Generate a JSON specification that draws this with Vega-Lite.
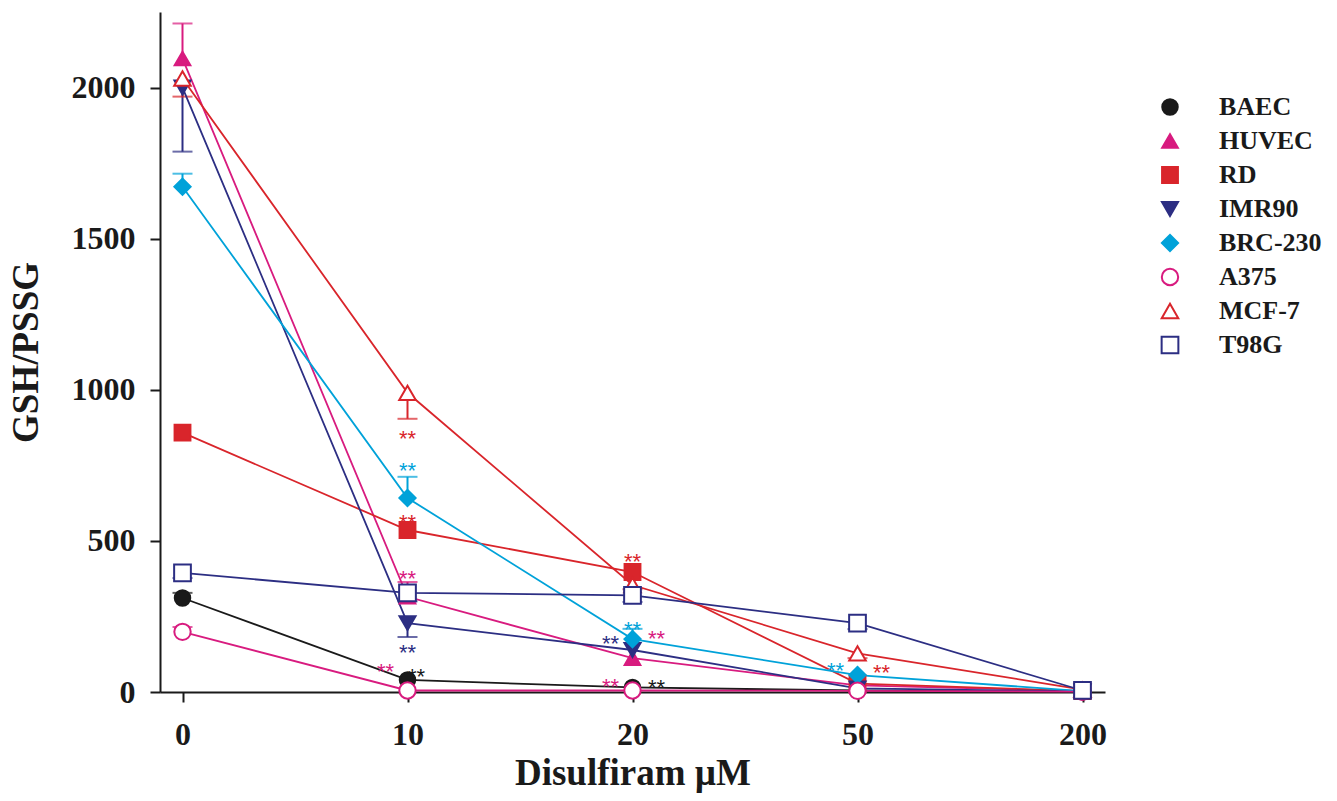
{
  "$schema": "https://vega.github.io/schema/vega-lite/v6.json",
  "width": 945,
  "height": 680,
  "autosize": "none",
  "padding": {"left": 160, "top": 12, "right": 232, "bottom": 109},
  "background": "white",
  "config": {
    "view": {"stroke": null},
    "axis": {"grid": false, "domainColor": "#1a1a1a", "domainWidth": 2, "tickColor": "#1a1a1a", "tickWidth": 2, "tickSize": 10,
      "labelFont": "Liberation Serif", "labelFontWeight": "bold", "labelFontSize": 32, "labelColor": "#1a1a1a",
      "titleFont": "Liberation Serif", "titleFontWeight": "bold", "titleFontSize": 37, "titleColor": "#1a1a1a"},
    "legend": {"orient": "none", "legendX": 997, "legendY": 82, "padding": 0, "symbolSize": 256, "symbolStrokeWidth": 2, "rowPadding": 8, "labelOffset": 36,
      "labelFont": "Liberation Serif", "labelFontWeight": "bold", "labelFontSize": 26, "labelColor": "#1a1a1a"}
  },
  "datasets": {
    "obs": [
      {"series": "BAEC", "dose": "0", "value": 311, "err": 328},
      {"series": "BAEC", "dose": "10", "value": 40, "err": null},
      {"series": "BAEC", "dose": "20", "value": 15, "err": null},
      {"series": "BAEC", "dose": "50", "value": 5, "err": null},
      {"series": "BAEC", "dose": "200", "value": 1, "err": null},
      {"series": "HUVEC", "dose": "0", "value": 2096, "err": 2212},
      {"series": "HUVEC", "dose": "10", "value": 315, "err": 364},
      {"series": "HUVEC", "dose": "20", "value": 112, "err": null},
      {"series": "HUVEC", "dose": "50", "value": 22, "err": null},
      {"series": "HUVEC", "dose": "200", "value": 3, "err": null},
      {"series": "RD", "dose": "0", "value": 858, "err": null},
      {"series": "RD", "dose": "10", "value": 536, "err": null},
      {"series": "RD", "dose": "20", "value": 397, "err": null},
      {"series": "RD", "dose": "50", "value": 28, "err": null},
      {"series": "RD", "dose": "200", "value": 3, "err": null},
      {"series": "IMR90", "dose": "0", "value": 2000, "err": 1788},
      {"series": "IMR90", "dose": "10", "value": 228, "err": 182},
      {"series": "IMR90", "dose": "20", "value": 139, "err": null},
      {"series": "IMR90", "dose": "50", "value": 12, "err": null},
      {"series": "IMR90", "dose": "200", "value": 2, "err": null},
      {"series": "BRC-230", "dose": "0", "value": 1672, "err": 1715},
      {"series": "BRC-230", "dose": "10", "value": 642, "err": 712},
      {"series": "BRC-230", "dose": "20", "value": 175, "err": 209},
      {"series": "BRC-230", "dose": "50", "value": 56, "err": null},
      {"series": "BRC-230", "dose": "200", "value": 3, "err": null},
      {"series": "A375", "dose": "0", "value": 199, "err": 215},
      {"series": "A375", "dose": "10", "value": 5, "err": null},
      {"series": "A375", "dose": "20", "value": 5, "err": null},
      {"series": "A375", "dose": "50", "value": 4, "err": null},
      {"series": "A375", "dose": "200", "value": 1, "err": null},
      {"series": "MCF-7", "dose": "0", "value": 2030, "err": 1970},
      {"series": "MCF-7", "dose": "10", "value": 990, "err": 904},
      {"series": "MCF-7", "dose": "20", "value": 354, "err": 340},
      {"series": "MCF-7", "dose": "50", "value": 128, "err": 112},
      {"series": "MCF-7", "dose": "200", "value": 8, "err": null},
      {"series": "T98G", "dose": "0", "value": 394, "err": 377},
      {"series": "T98G", "dose": "10", "value": 328, "err": 300},
      {"series": "T98G", "dose": "20", "value": 320, "err": 298},
      {"series": "T98G", "dose": "50", "value": 228, "err": 208},
      {"series": "T98G", "dose": "200", "value": 5, "err": null}
    ],
    "stars": [
      {"series": "MCF-7", "dose": "10", "y": 858, "side": "center"},
      {"series": "BRC-230", "dose": "10", "y": 752, "side": "center"},
      {"series": "RD", "dose": "10", "y": 580, "side": "center"},
      {"series": "HUVEC", "dose": "10", "y": 394, "side": "center"},
      {"series": "IMR90", "dose": "10", "y": 150, "side": "center"},
      {"series": "A375", "dose": "10", "y": 85, "side": "left"},
      {"series": "BAEC", "dose": "10", "y": 68, "side": "near"},
      {"series": "RD", "dose": "20", "y": 450, "side": "center"},
      {"series": "BRC-230", "dose": "20", "y": 225, "side": "center"},
      {"series": "HUVEC", "dose": "20", "y": 195, "side": "right"},
      {"series": "IMR90", "dose": "20", "y": 180, "side": "left"},
      {"series": "A375", "dose": "20", "y": 36, "side": "left"},
      {"series": "BAEC", "dose": "20", "y": 33, "side": "right"},
      {"series": "BRC-230", "dose": "50", "y": 90, "side": "left"},
      {"series": "RD", "dose": "50", "y": 83, "side": "right"}
    ]
  },
  "encoding": {
    "x": {"field": "dose", "type": "ordinal", "sort": ["0", "10", "20", "50", "200"],
      "scale": {"type": "point", "padding": 0.1},
      "axis": {"title": "Disulfiram µM", "labelAngle": 0, "labelPadding": 17, "titlePadding": 5}}
  },
  "layer": [
    {
      "data": {"name": "obs"},
      "transform": [{"filter": "datum.err != null"}],
      "mark": {"type": "rule", "strokeWidth": 2},
      "encoding": {
        "y": {"field": "value", "type": "quantitative"},
        "y2": {"field": "err"},
        "color": {"field": "series", "type": "nominal", "legend": null,
          "scale": {"domain": ["T98G", "MCF-7", "A375", "BRC-230", "IMR90", "RD", "HUVEC", "BAEC"],
            "range": ["#2c2e83", "#d9252b", "#d81b7f", "#00a2d9", "#2c2e83", "#d9252b", "#d81b7f", "#1a1a1a"]}}
      }
    },
    {
      "data": {"name": "obs"},
      "transform": [{"filter": "datum.err != null"}],
      "mark": {"type": "tick", "size": 20, "thickness": 2, "orient": "horizontal"},
      "encoding": {
        "y": {"field": "err", "type": "quantitative"},
        "color": {"field": "series", "type": "nominal", "legend": null}
      }
    },
    {
      "data": {"name": "obs"},
      "mark": {"type": "line", "strokeWidth": 1.8},
      "encoding": {
        "y": {"field": "value", "type": "quantitative", "scale": {"domain": [0, 2250], "nice": false},
          "axis": {"title": "GSH/PSSG", "values": [0, 500, 1000, 1500, 2000], "format": "d", "labelPadding": 15, "titlePadding": 26}},
        "stroke": {"field": "series", "type": "nominal",
          "scale": {"domain": ["BAEC", "HUVEC", "RD", "IMR90", "BRC-230", "A375", "MCF-7", "T98G"],
            "range": ["#1a1a1a", "#d81b7f", "#d9252b", "#2c2e83", "#00a2d9", "#d81b7f", "#d9252b", "#2c2e83"]},
          "legend": {"title": null}
        }
      }
    },
    {
      "data": {"name": "obs"},
      "mark": {"type": "point", "strokeWidth": 2, "opacity": 1},
      "encoding": {
        "y": {"field": "value", "type": "quantitative"},
        "stroke": {"field": "series", "type": "nominal", "legend": {"title": null}},
        "fill": {"field": "series", "type": "nominal",
          "scale": {"domain": ["BAEC", "HUVEC", "RD", "IMR90", "BRC-230", "A375", "MCF-7", "T98G"],
            "range": ["#1a1a1a", "#d81b7f", "#d9252b", "#2c2e83", "#00a2d9", "#ffffff", "#ffffff", "#ffffff"]},
          "legend": {"title": null}},
        "size": {"field": "series", "type": "nominal",
          "scale": {"domain": ["BAEC", "HUVEC", "RD", "IMR90", "BRC-230", "A375", "MCF-7", "T98G"],
            "range": [240, 280, 260, 280, 350, 230, 280, 240]},
          "legend": {"title": null}},
        "shape": {"field": "series", "type": "nominal",
          "scale": {"domain": ["BAEC", "HUVEC", "RD", "IMR90", "BRC-230", "A375", "MCF-7", "T98G"],
            "range": ["circle", "triangle-up", "square", "triangle-down", "diamond", "circle", "triangle-up", "square"]},
          "legend": {"title": null}}
      }
    },
    {
      "data": {"name": "stars"},
      "transform": [{"filter": "datum.side === 'center'"}],
      "mark": {"type": "text", "text": "**", "font": "Liberation Sans", "fontSize": 22, "baseline": "alphabetic", "dy": 13},
      "encoding": {"y": {"field": "y", "type": "quantitative"}, "color": {"field": "series", "type": "nominal", "legend": null}}
    },
    {
      "data": {"name": "stars"},
      "transform": [{"filter": "datum.side === 'left'"}],
      "mark": {"type": "text", "text": "**", "font": "Liberation Sans", "fontSize": 22, "baseline": "alphabetic", "dy": 13, "dx": -22},
      "encoding": {"y": {"field": "y", "type": "quantitative"}, "color": {"field": "series", "type": "nominal", "legend": null}}
    },
    {
      "data": {"name": "stars"},
      "transform": [{"filter": "datum.side === 'right'"}],
      "mark": {"type": "text", "text": "**", "font": "Liberation Sans", "fontSize": 22, "baseline": "alphabetic", "dy": 13, "dx": 24},
      "encoding": {"y": {"field": "y", "type": "quantitative"}, "color": {"field": "series", "type": "nominal", "legend": null}}
    },
    {
      "data": {"name": "stars"},
      "transform": [{"filter": "datum.side === 'near'"}],
      "mark": {"type": "text", "text": "**", "font": "Liberation Sans", "fontSize": 22, "baseline": "alphabetic", "dy": 13, "dx": 9},
      "encoding": {"y": {"field": "y", "type": "quantitative"}, "color": {"field": "series", "type": "nominal", "legend": null}}
    }
  ]
}
